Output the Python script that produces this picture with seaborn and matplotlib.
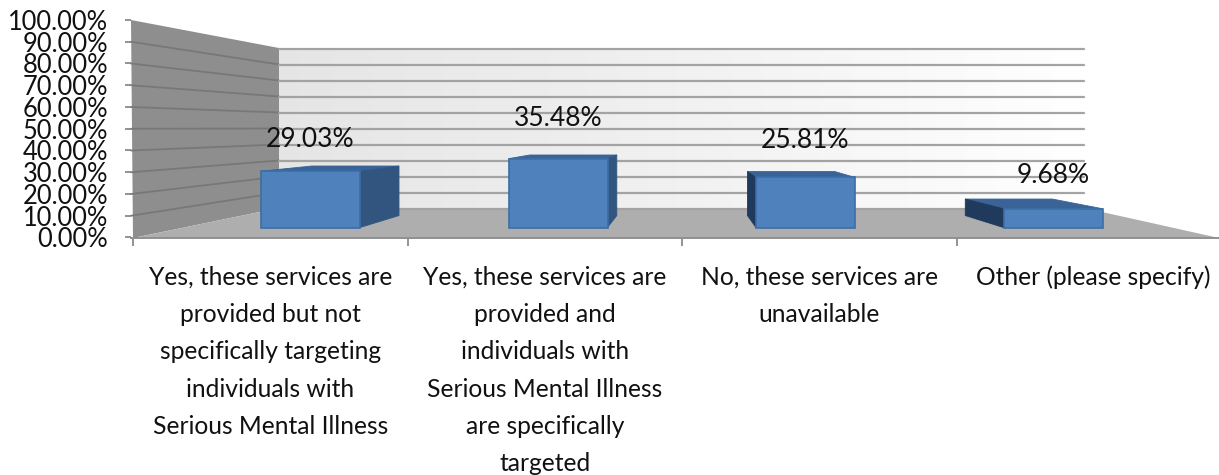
import numpy as np
import matplotlib
matplotlib.use("Agg")
import matplotlib.pyplot as plt
from matplotlib.patches import Polygon
import seaborn as sns

# ---- data ----
CATEGORIES = [
    "Yes, these services are\nprovided but not\nspecifically targeting\nindividuals with\nSerious Mental Illness",
    "Yes, these services are\nprovided and\nindividuals with\nSerious Mental Illness\nare specifically\ntargeted",
    "No, these services are\nunavailable",
    "Other (please specify)",
]
VALUES = [29.03, 35.48, 25.81, 9.68]
Y_TICKS = [0, 10, 20, 30, 40, 50, 60, 70, 80, 90, 100]
Y_TICK_LABELS = ["0.00%", "10.00%", "20.00%", "30.00%", "40.00%", "50.00%",
                 "60.00%", "70.00%", "80.00%", "90.00%", "100.00%"]
LABEL_GAP_PX = [32, 40, 37, 33]

W, H = 1219, 475
sns.set_theme(style="white")
plt.rcParams["font.family"] = ["Lato", "DejaVu Sans"]
fig = plt.figure(figsize=(W / 100, H / 100), dpi=100, facecolor="white")

# ---- room (back wall, side wall, floor), in pixel coordinates ----
bg = fig.add_axes([0, 0, 1, 1], zorder=0)
grad = np.interp(np.linspace(0, 1, 256), [0, 0.4, 1], [0.90, 0.935, 1.0])
bg.imshow(np.tile(grad[None, :, None], (1, 1, 3)), extent=[279, 1084, 208, 48],
          aspect="auto", interpolation="bilinear", zorder=0)
bg.set_xlim(0, W)
bg.set_ylim(H, 0)
bg.axis("off")
bg.add_patch(Polygon([(131, 20), (279, 48), (279, 208), (133, 238)], fc="#8E8E8E", ec="none", zorder=1))
bg.add_patch(Polygon([(133, 238), (279, 208), (1084, 208), (1219, 238)], fc="#AEAEAE", ec="none", zorder=1))
for v in Y_TICKS:
    side_y, back_y = 237.5 - 2.175 * v, 208.5 - 1.6 * v
    if 0 < v < 100:
        bg.plot([131, 279], [side_y, back_y], color="#787878", lw=1.3, zorder=2)
    bg.plot([279, 1084], [back_y, back_y], color="#A3A3A3", lw=1.6, zorder=2)

# ---- front axes: tick labels of both axes ----
ax_left, ax_right, ax_top, ax_bottom = 131, W, 20, 238
front = fig.add_axes([ax_left / W, (H - ax_bottom) / H, (ax_right - ax_left) / W, (ax_bottom - ax_top) / H],
                     zorder=1, facecolor="none")
step = 274.5
front.set_xlim(-0.5 - 2 / step, -0.5 - 2 / step + (ax_right - ax_left) / step)
front.set_ylim(-0.23, 100)
for s in ("top", "right", "left"):
    front.spines[s].set_visible(False)
front.spines["bottom"].set_color("#909090")
front.spines["bottom"].set_linewidth(1.4)
front.set_xticks(range(len(CATEGORIES)))
front.set_xticklabels(CATEGORIES, fontsize=17.7, color="#111111", linespacing=1.75)
front.set_xticks(np.arange(len(CATEGORIES)) - 0.5, minor=True)
front.tick_params(axis="x", which="major", length=0, pad=20)
front.tick_params(axis="x", which="minor", bottom=True, length=6, width=1.2, color="#808080")
front.set_yticks(Y_TICKS)
front.set_yticklabels(Y_TICK_LABELS, fontsize=18.4, color="#111111")
front.tick_params(axis="y", length=4.5, width=1.2, color="#808080", pad=12, left=True)
front.grid(False)

# ---- bars ----
ax = fig.add_axes([0, 0, 1, 1], zorder=2, facecolor="none")
sns.barplot(x=CATEGORIES, y=VALUES, ax=ax, color="#4F81BD", saturation=1, width=0.4,
            edgecolor="#3C6DA6", linewidth=1.2, zorder=3)
bar_x0, bar_step = 310.5, 247.5
y0_px, y_scale = 227.5, 1.94
ax.set_xlim((0 - bar_x0) / bar_step, (W - bar_x0) / bar_step)
ax.set_ylim((y0_px - H) / y_scale, y0_px / y_scale)
ax.axis("off")

VX, VY, S = 685, 128, 0.88


def to_px(x, y):
    dx, dy = ax.transData.transform((x, y))
    return dx, H - dy


def back(p):
    return (VX + S * (p[0] - VX), VY + S * (p[1] - VY))


for patch, value, gap in zip(ax.patches, VALUES, LABEL_GAP_PX):
    x0, x1 = patch.get_x(), patch.get_x() + patch.get_width()
    fl, fr = to_px(x0, 0), to_px(x1, 0)
    tl, tr = to_px(x0, value), to_px(x1, value)
    bg_faces = [
        ([tl, tr, back(tr), back(tl)], "#3A6497"),
    ]
    if back(fr)[0] > fr[0]:
        bg_faces.append(([tr, fr, back(fr), back(tr)], "#32557F"))
    if back(fl)[0] < fl[0]:
        bg_faces.append(([tl, fl, back(fl), back(tl)], "#1F3A5C"))
    for pts, col in bg_faces:
        ax.add_patch(Polygon(pts, closed=True, fc=col, ec=col, lw=0.6, transform=bg.transData, zorder=2))
    ax.annotate(f"{value:.2f}%", xy=((x0 + x1) / 2, value), xytext=(0, gap * 0.72),
                textcoords="offset points", ha="center", va="center",
                fontsize=19, color="#111111", zorder=5)

fig.savefig("out.png", dpi=100)
